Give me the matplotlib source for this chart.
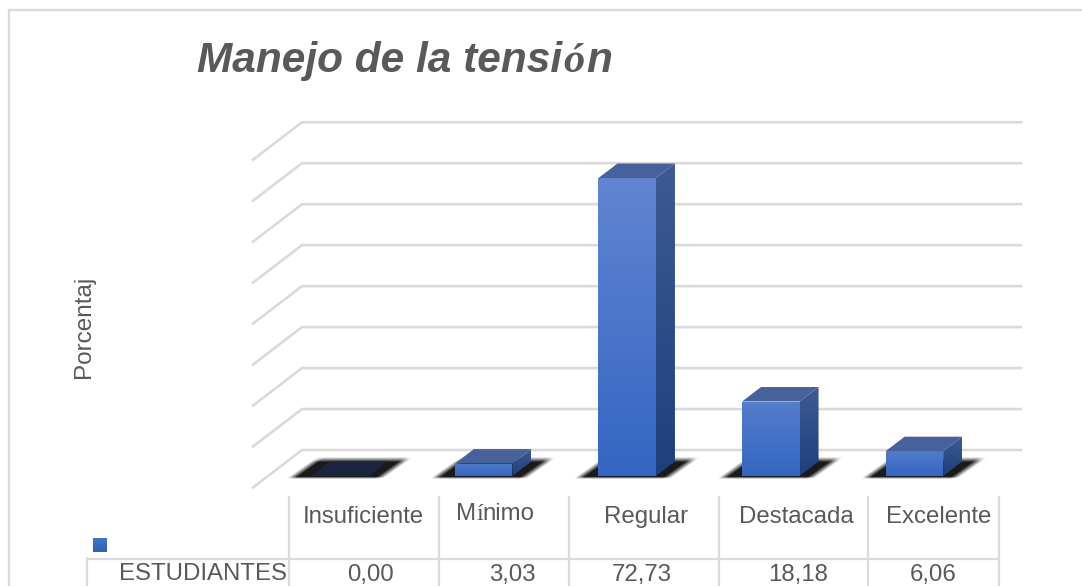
import numpy as np
import matplotlib
matplotlib.use("Agg")
import matplotlib.pyplot as plt
from matplotlib.colors import to_rgb
from matplotlib.patches import Polygon

categories = ["Insuficiente", "Mínimo", "Regular", "Destacada", "Excelente"]
values = [0.00, 3.03, 72.73, 18.18, 6.06]
value_labels = ["0,00", "3,03", "72,73", "18,18", "6,06"]
series_name = "ESTUDIANTES"
grid_values = [0, 10, 20, 30, 40, 50, 60, 70, 80]
y_label = "Porcentaj"

W, H = 1082, 586
fig = plt.figure(figsize=(W / 100, H / 100), dpi=100, facecolor="white")
ax = fig.add_axes([0, 0, 1, 1])
ax.axis("off")

# scales: category 0 centred at px 340, 143.6 px per category; value 0 at py 476, 4.097 px per unit
PX_CAT, X0 = 143.6, 340.0
PX_VAL, Y0 = 4.097, 476.0
ax.set_xlim(-X0 / PX_CAT, (W - X0) / PX_CAT)
ax.set_ylim((Y0 - H) / PX_VAL, Y0 / PX_VAL)

def px(x):
    return (x - X0) / PX_CAT
def py(y):
    return (Y0 - y) / PX_VAL

GRID = "#dadada"
TEXT = "#595959"
FONT = "Liberation Sans"

# outer frame
ax.plot([px(9), px(9), px(W)], [py(H), py(10), py(10)], color=GRID, lw=1.7, solid_capstyle="butt")

# floor / walls grid (3D look)
for v in grid_values:
    yb = 450 - v * PX_VAL
    ax.plot([px(253), px(302), px(1021)], [py(yb + 37.5), py(yb), py(yb)],
            color=GRID, lw=1.9, solid_joinstyle="round", zorder=1)

BW = 57.5 / PX_CAT    # front face width
DX = 19 / PX_CAT      # depth offset
DY = 14.5 / PX_VAL

def gradient_face(xs, ys, top, bottom, zorder):
    poly = Polygon(np.column_stack([xs, ys]), closed=True, fc="none", ec="none", zorder=zorder)
    ax.add_patch(poly)
    t = np.linspace(0, 1, 64)[:, None, None]
    top = np.array(to_rgb(top))[None, None, :]
    bottom = np.array(to_rgb(bottom))[None, None, :]
    img = top * (1 - t) + bottom * t
    im = ax.imshow(img, extent=[min(xs), max(xs), min(ys), max(ys)], origin="upper",
                   aspect="auto", zorder=zorder, interpolation="bilinear")
    im.set_clip_path(poly)

# soft shadow: skewed floor patch with a smooth falloff behind each bar
def shadow(i):
    left = X0 + i * PX_CAT - 29
    right = left + 58
    x0, x1 = int(left - 45), int(right + 65)
    y0, y1 = 445, 495
    xx, yy = np.meshgrid(np.arange(x0, x1) + 0.5, np.arange(y0, y1) + 0.5)
    f = (478 - yy) / 19.0                      # 0 at the bottom edge, 1 at the top edge
    lx = left - 24 + 27 * f
    rx = right + 15 + 27 * f
    horiz = np.clip((xx - lx) / 9.0, 0, 1) * np.clip((rx - xx) / 9.0, 0, 1)
    vert = np.clip((479 - yy) / 2.5, 0, 1) * np.clip((yy - 457) / 5.0, 0, 1)
    mask = horiz * vert
    rgba = np.zeros(mask.shape + (4,))
    rgba[..., 3] = np.clip(mask * 0.9, 0, 1)
    ax.imshow(rgba, extent=[px(x0), px(x1), py(y1), py(y0)], origin="upper", aspect="auto",
              zorder=2, interpolation="bilinear")

for i in range(len(values)):
    shadow(i)

# bars
for i, v in enumerate(values):
    l, r = i - BW / 2, i + BW / 2
    if v == 0:
        ax.add_patch(Polygon([[l, 0], [r, 0], [r + DX, DY], [l + DX, DY]], closed=True,
                             fc="#1b2540", ec="none", zorder=3))
        continue
    frac = min(1, v / 72.73)
    front_top = np.array([0.38, 0.52, 0.82]) * (0.35 + 0.65 * frac) + np.array([0.28, 0.46, 0.78]) * (0.65 - 0.65 * frac)
    gradient_face([l, r, r, l], [0, 0, v, v], front_top, "#3466c2", 4)
    gradient_face([r, r + DX, r + DX, r], [0, DY, v + DY, v], "#3d5a92", "#1f3f7c", 4)
    ax.add_patch(Polygon([[l, v], [r, v], [r + DX, v + DY], [l + DX, v + DY]], closed=True,
                         fc="#47619b", ec="none", zorder=4))

ax.set_xlim(-X0 / PX_CAT, (W - X0) / PX_CAT)
ax.set_ylim((Y0 - H) / PX_VAL, Y0 / PX_VAL)

# data table lines
col_edges = [289, 439, 569, 719, 868, 999]
for x in col_edges:
    ax.plot([px(x), px(x)], [py(496), py(H)], color=GRID, lw=1.6, solid_capstyle="butt", zorder=1)
ax.plot([px(87), px(87)], [py(557), py(H)], color=GRID, lw=1.6, solid_capstyle="butt", zorder=1)
ax.plot([px(87), px(999)], [py(558.5), py(558.5)], color=GRID, lw=1.6, solid_capstyle="butt", zorder=1)

# legend key
gradient_face([px(93), px(107), px(107), px(93)], [py(552), py(552), py(538), py(538)], "#3f74cc", "#3060b8", 4)

# table text
FS = 17.3
cat_x = [363, None, 646.5, 796, 939]
for i, c in enumerate(categories):
    if cat_x[i] is not None:
        ax.text(px(cat_x[i]), py(517), c, ha="center", va="center", fontsize=FS, family=FONT, color=TEXT)
# "Mínimo" has a substituted accent glyph and sits a little higher
ax.text(px(456), py(514.5), categories[1][0], ha="left", va="center", fontsize=FS, family=FONT, color=TEXT)
ax.text(px(476), py(514.5), categories[1][1], ha="left", va="center", fontsize=FS, family="Liberation Serif", color=TEXT)
ax.text(px(482.5), py(514.5), categories[1][2:], ha="left", va="center", fontsize=FS, family=FONT, color=TEXT)
val_x = [370, 512, 642, 798, 933]
for x, s in zip(val_x, value_labels):
    ax.text(px(x), py(575), s, ha="center", va="center", fontsize=FS, family=FONT, color=TEXT)
ax.text(px(287), py(574), series_name, ha="right", va="center", fontsize=FS, family=FONT, color=TEXT)

# axis label
ax.text(px(84), py(327), y_label, rotation=90, ha="center", va="center", fontsize=17.5, family=FONT, color=TEXT)

# title (substituted ó glyph)
TFS = 30.5
kw = dict(va="baseline", fontsize=TFS, color=TEXT, fontweight="bold", fontstyle="italic")
title = "Manejo de la tensión"
ax.text(px(197), py(72), title[:18], ha="left", family=FONT, **kw)
ax.text(px(563), py(72), title[18], ha="left", family="Liberation Serif", **kw)
ax.text(px(586), py(72), title[19], ha="left", family=FONT, **kw)

fig.savefig("out.png", dpi=100)
